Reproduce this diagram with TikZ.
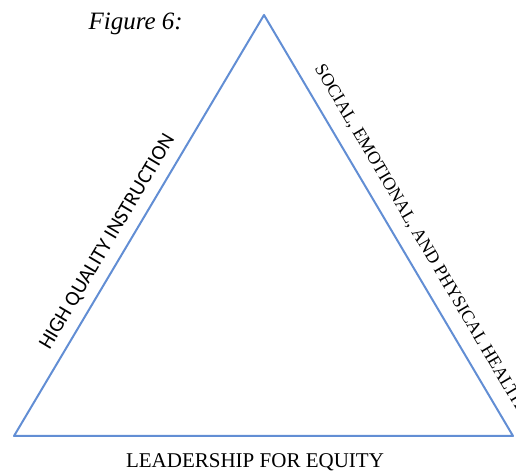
\documentclass[tikz,border=0pt]{standalone}
\usepackage{fontspec}
\setmainfont{Liberation Serif}
\newfontfamily\sidefont{Carlito}
\usepackage{tkz-euclide}
\definecolor{SideClr}{RGB}{98,142,212}

\begin{document}
\begin{tikzpicture}[scale=0.035146]
\path[use as bounding box] (0,0) rectangle (516,470);
\clip (0,0) rectangle (516,470);
\tkzSetUpLine[line width=2pt,color=SideClr]

\tkzDefPoints{264/455/A,14/34/B,513/34/C}

\tkzDrawPolygon[color=SideClr](A,B,C)

\node[font=\itshape\fontsize{25}{25}\selectfont,anchor=base west] (fig) at (85,440) {Figure 6:};
\path (B) -- (A) node[pos=0.438,sloped,anchor=base,yshift=13pt,
  font=\sidefont\fontsize{21}{21}\selectfont] (hqi) {HIGH QUALITY INSTRUCTION};
\path (A) -- (C) node[pos=0.14,sloped,anchor=base west,yshift=16pt,
  font=\fontsize{18}{18}\selectfont] (seph) {SOCIAL, EMOTIONAL, AND PHYSICAL HEALTH};
\node[font=\fontsize{21}{21}\selectfont,anchor=base] (lfe) at (255,3) {LEADERSHIP FOR EQUITY};

\end{tikzpicture}
\end{document}
